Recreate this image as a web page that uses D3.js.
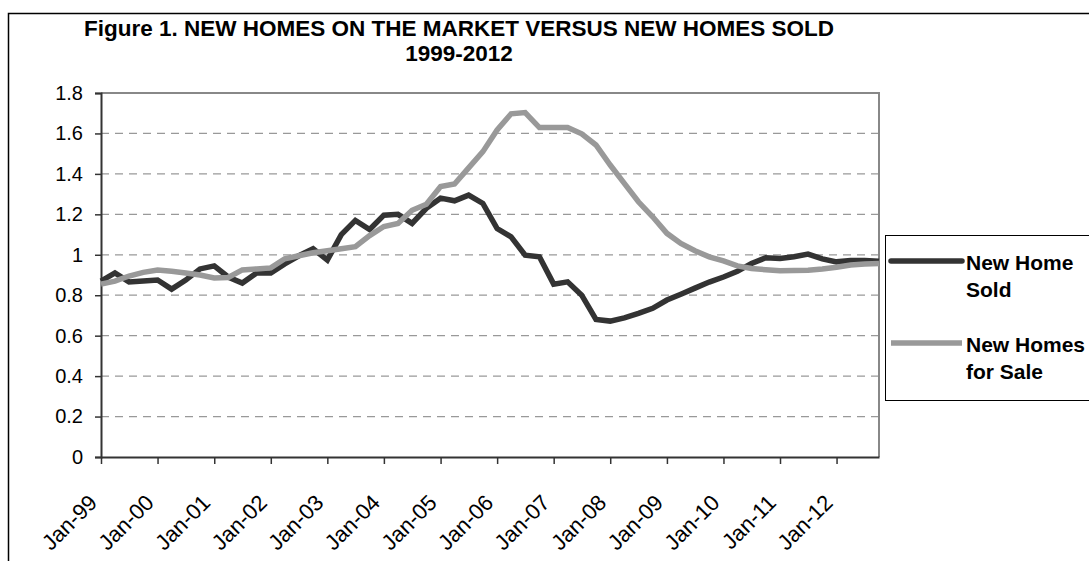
<!DOCTYPE html>
<html>
<head>
<meta charset="utf-8">
<script src="https://cdn.jsdelivr.net/npm/d3@7"></script>
<style>
  body { margin: 0; background: #fff; }
  svg text { font-family: Arial, "Liberation Sans", sans-serif; }
</style>
</head>
<body>
<svg id="chart" width="1089" height="561"></svg>
<script>
// quarterly observations, Jan-1999 .. Oct-2012
const firstQuarter = new Date(1999, 0, 1);
const lastQuarter = new Date(2012, 9, 1);
const quarters = d3.timeMonth.every(3).range(firstQuarter, new Date(2012, 10, 1));

const homesSold = [
  0.87, 0.91, 0.866, 0.87, 0.875, 0.83, 0.875, 0.93, 0.945, 0.89, 0.86, 0.91, 0.91, 0.955,
  0.995, 1.03, 0.974, 1.10, 1.17, 1.125, 1.196, 1.2, 1.155, 1.23, 1.28, 1.267, 1.295, 1.254,
  1.13, 1.089, 0.998, 0.99, 0.855, 0.866, 0.80, 0.68, 0.672, 0.688, 0.71, 0.735, 0.776, 0.805,
  0.835, 0.865, 0.89, 0.918, 0.957, 0.985, 0.982, 0.99, 1.003, 0.98, 0.965, 0.972, 0.972, 0.968
];
const homesForSale = [
  0.855, 0.87, 0.895, 0.913, 0.925, 0.918, 0.91, 0.9, 0.885, 0.888, 0.925, 0.93, 0.935, 0.98,
  0.995, 1.01, 1.02, 1.03, 1.04, 1.095, 1.14, 1.155, 1.22, 1.25, 1.337, 1.35, 1.43, 1.51,
  1.617, 1.697, 1.703, 1.629, 1.629, 1.629, 1.598, 1.543, 1.444, 1.353, 1.262, 1.188, 1.106, 1.056,
  1.02, 0.99, 0.97, 0.945, 0.932, 0.926, 0.921, 0.922, 0.924, 0.93, 0.938, 0.949, 0.954, 0.957
];

const yTicks = [0, 0.2, 0.4, 0.6, 0.8, 1, 1.2, 1.4, 1.6, 1.8];
const titleLines = ["Figure 1. NEW HOMES ON THE MARKET VERSUS NEW HOMES SOLD", "1999-2012"];
const seriesNames = [["New Home", "Sold"], ["New Homes", "for Sale"]];
const seriesColors = ["#333333", "#999999"];

const svg = d3.select("#chart");
const plot = {left: 101, right: 879, top: 93, bottom: 457};

// outer chart frame (cropped on right and bottom)
svg.append("rect")
  .attr("x", 8.5).attr("y", 13.5)
  .attr("width", 1200).attr("height", 700)
  .attr("fill", "none").attr("stroke", "#000").attr("stroke-width", 1.5);

svg.selectAll(".title")
  .data(titleLines)
  .enter().append("text")
  .attr("class", "title")
  .attr("x", 459)
  .attr("y", (d, i) => 36 + i * 25)
  .attr("text-anchor", "middle")
  .style("font-weight", "bold")
  .style("font-size", "22.5px")
  .text(d => d);

const x = d3.scaleTime().domain([firstQuarter, lastQuarter]).range([plot.left, plot.right]);
const y = d3.scaleLinear().domain([0, 1.8]).range([plot.bottom, plot.top]);

// grid
svg.append("g")
  .selectAll("line")
  .data(yTicks.filter(v => v > 0 && v < 1.8))
  .enter().append("line")
  .attr("x1", plot.left).attr("x2", plot.right)
  .attr("y1", d => y(d)).attr("y2", d => y(d))
  .attr("stroke", "#999").attr("stroke-width", 1.2)
  .attr("stroke-dasharray", "8,6");

// plot frame top/right
svg.append("path")
  .attr("d", `M${plot.left},${plot.top}H${plot.right}V${plot.bottom}`)
  .attr("fill", "none").attr("stroke", "#888").attr("stroke-width", 2);

// y axis
const yAxis = svg.append("g")
  .attr("transform", `translate(${plot.left},0)`)
  .call(d3.axisLeft(y).tickValues(yTicks).tickSize(6).tickPadding(12)
    .tickFormat(d => d3.format("")(+d.toFixed(1))));
yAxis.select(".domain").attr("stroke", "#333").attr("stroke-width", 2);
yAxis.selectAll(".tick line").attr("stroke", "#333").attr("stroke-width", 1.5);
yAxis.selectAll("text").style("font-size", "20px").attr("fill", "#000");

// x axis
const yearTicks = d3.timeYear.range(new Date(1999, 0, 1), new Date(2012, 1, 1));
const xAxis = svg.append("g")
  .attr("transform", `translate(0,${plot.bottom})`)
  .call(d3.axisBottom(x).tickValues(yearTicks).tickSize(7).tickSizeOuter(0)
    .tickFormat(d3.timeFormat("%b-%y")));
xAxis.select(".domain").attr("stroke", "#333").attr("stroke-width", 2);
xAxis.selectAll(".tick line").attr("stroke", "#333").attr("stroke-width", 1.5);
xAxis.selectAll("text")
  .style("font-size", "22px").attr("fill", "#000")
  .attr("text-anchor", "end")
  .attr("dy", null)
  .attr("y", 0)
  .attr("transform", "translate(-3,47) rotate(-45)");

// lines
const line = d3.line()
  .x((d, i) => x(quarters[i]))
  .y(d => y(d));

[homesSold, homesForSale].forEach((s, k) => {
  svg.append("path")
    .datum(s)
    .attr("d", line)
    .attr("fill", "none")
    .attr("stroke", seriesColors[k])
    .attr("stroke-width", 5.5)
    .attr("stroke-linejoin", "miter");
});

// legend
const legend = svg.append("g");
legend.append("rect")
  .attr("x", 885.5).attr("y", 235.5)
  .attr("width", 300).attr("height", 165)
  .attr("fill", "#fff").attr("stroke", "#000").attr("stroke-width", 1);

seriesNames.forEach((names, k) => {
  const ly = 261 + k * 82;
  legend.append("line")
    .attr("x1", 891).attr("x2", 962)
    .attr("y1", ly).attr("y2", ly)
    .attr("stroke", seriesColors[k]).attr("stroke-width", 5.5)
    .attr("stroke-linecap", k === 0 ? "round" : "butt");
  legend.selectAll(".lt" + k)
    .data(names)
    .enter().append("text")
    .attr("x", 966)
    .attr("y", (d, i) => ly + 9 + i * 27)
    .style("font-weight", "bold")
    .style("font-size", "21px")
    .text(d => d);
});
</script>
</body>
</html>
